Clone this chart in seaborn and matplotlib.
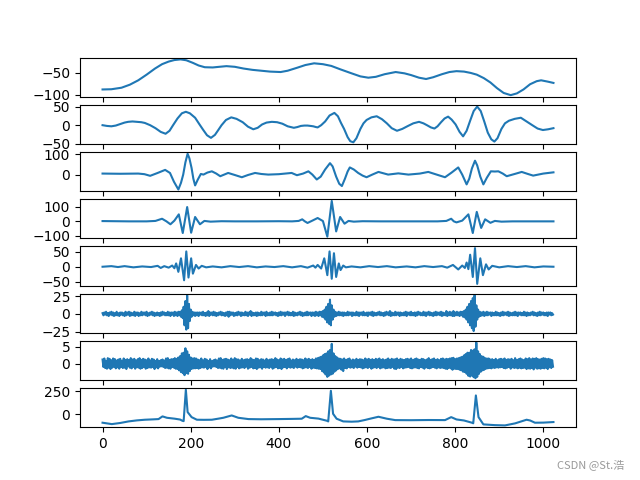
import matplotlib
matplotlib.use("Agg")
import matplotlib.pyplot as plt
import seaborn as sns
import numpy as np

# ---- Row 1: approximation (smooth trend) ----
a_x = [0, 20, 43, 62, 81, 100, 119, 135, 150, 163, 177, 190, 205, 218, 232, 250, 265,
       281, 300, 320, 340, 360, 380, 404, 420, 442, 460, 480, 500, 519, 540, 565, 585,
       603, 620, 640, 665, 685, 700, 718, 734, 750, 770, 787, 803, 820, 835, 849, 865,
       880, 895, 910, 926, 940, 955, 970, 985, 995, 1010, 1023]
a_y = [-88, -87.5, -84, -77, -67, -54, -40, -30, -24, -20.5, -19, -21, -27, -33, -37, -37.5, -36,
       -34.5, -36, -40, -43, -45, -47, -48, -45, -38, -32, -28, -30, -34, -42, -51, -58,
       -61, -59, -53, -48, -51, -55, -61, -64, -60, -53, -48, -46, -47, -50, -54, -62,
       -72, -85, -96, -101, -97, -88, -76, -69, -67, -70, -73]

# ---- Row 2 ----
d1_x = [0, 10, 20, 30, 40, 50, 58, 68, 78, 88, 96, 108, 120, 132, 143, 152, 160, 170,
        180, 189, 198, 210, 220, 228, 237, 246, 255, 262, 270, 280, 292, 304, 318, 330,
        342, 352, 362, 372, 384, 396, 408, 420, 434, 442, 450, 458, 465, 472, 478, 484,
        488, 496, 505, 515, 526, 534, 541, 548, 556, 562, 569, 576, 585, 592, 599, 610,
        622, 634, 645, 656, 668, 680, 693, 705, 718, 728, 736, 745, 753, 760, 768, 776,
        784, 792, 801, 810, 818, 826, 834, 842, 850, 858, 866, 874, 882, 889, 896, 905,
        913, 922, 935, 949, 962, 975, 987, 999, 1011, 1023]
d1_y = [0, -2, -3, -1, 3, 7, 9, 10, 9, 8, 6, 0, -8, -18, -23, -15, 0, 18,
        32, 36, 32, 20, 2, -12, -27, -34, -26, -14, 0, 14, 21, 17, 8, -4,
        -11, -7, 2, 7, 9, 8, 4, -3, -7, -5, -2, -1, -1, -2, -3, -5,
        -6, 0, 10, 26, 33, 24, 6, -10, -32, -43, -46, -35, -10, 5, 14, 21,
        24, 16, 5, -8, -15, -10, -2, 5, 9, 5, 0, -6, -9, -3, 8, 18,
        23, 15, 2, -18, -30, -15, 12, 38, 50, 38, 10, -20, -38, -44, -35, -10,
        5, 12, 17, 20, 10, 0, -9, -13, -11, -8]

# ---- Row 3 ----
d2_x = [0, 40, 81, 95, 108, 125, 142, 153, 162, 172, 178, 183, 188, 193, 197, 202, 206,
        210, 216, 223, 229, 238, 248, 258, 267, 276, 285, 300, 316, 330, 346, 360, 376,
        400, 429, 441, 455, 467, 476, 486, 495, 505, 516, 522, 530, 537, 543, 550, 556,
        561, 570, 580, 590, 599, 612, 626, 648, 671, 694, 720, 739, 758, 777, 792, 807,
        816, 826, 832, 838, 845, 850, 857, 864, 872, 881, 890, 898, 908, 917, 935, 951,
        965, 977, 1000, 1023]
d2_y = [5, 4, 5, 2, -6, 8, 23, 8, -35, -73, -40, 0, 60, 102, 80, 32, -20,
        -53, -25, 3, 0, 10, 16, 5, -8, 0, 8, -2, -13, -2, 8, 3, 0,
        2, 8, -3, 5, 16, 0, -24, -10, 25, 56, 40, -10, -45, -56, -20, 15,
        35, 25, 8, -5, -13, 0, 13, 0, 6, 0, 5, 13, 0, -13, 10, 35,
        0, -48, -20, 30, 68, 45, -10, -48, -15, 16, 15, 16, 5, -8, 3, 13,
        3, -5, 5, 11]

# ---- Row 4 ----
d3_x = [0, 60, 100, 120, 135, 145, 154, 163, 173, 182, 192, 201, 210, 221, 231, 245,
        270, 300, 350, 400, 430, 445, 453, 459, 465, 476, 488, 500, 510, 520, 530, 539,
        549, 558, 570, 590, 630, 700, 760, 780, 791, 797, 803, 816, 830, 840, 849, 859,
        868, 880, 890, 905, 930, 1023]
d3_y = [2, 0, 0, 3, 18, 0, -20, 5, 48, -80, 98, -78, 30, -20, 3, -2,
        1, 0, 0, 1, 0, 3, 14, 0, -11, 5, 23, 2, -105, 140, -69, 30,
        -16, 3, -2, 1, 0, 0, 0, 3, 18, 0, -7, 5, 48, -80, 65, -45,
        14, -10, 3, -2, 0, 0]

# ---- Row 5 ----
d4_x = [0, 20, 35, 50, 70, 90, 110, 125, 132, 140, 150, 158, 163, 167, 172, 178, 185,
        190, 195, 201, 205, 212, 218, 225, 235, 250, 270, 290, 310, 330, 350, 370, 390,
        410, 430, 450, 465, 478, 483, 488, 496, 503, 510, 515, 520, 525, 530, 536, 540,
        546, 552, 565, 585, 605, 625, 645, 665, 690, 710, 730, 750, 770, 782, 795, 807,
        816, 822, 826, 830, 834, 840, 845, 850, 857, 863, 870, 876, 884, 900, 920, 940,
        960, 980, 1000, 1023]
d4_y = [0, 2, -1, 2, -2, 1, -1, 3, -4, 2, -3, 4, -5, 11, -17, 28, -45,
        51, -36, 28, -23, 6, -6, 3, -2, 1, -2, 2, -1, 2, -2, 1, -1,
        2, -2, 2, -3, 4, -3, 6, -6, 28, -28, 51, -40, 45, -34, 11, -11,
        4, -2, 1, -2, 2, -1, 2, -2, 1, -2, 2, -1, 2, -3, 6, -9,
        4, -4, 14, -8, 40, -34, 62, -57, 28, -28, 8, -9, 3, -2, 2, -1,
        2, -2, 1, 0]

# ---- Row 6 (sampled every 2 points) ----
d5_step = 2
d5_y = [1, -2, 2, -1, 3, -2, 1, -3, 2, -1, 3, -2, 2, -3, 1, -2,
        3, -2, 1, -3, 2, -1, 2, -2, 1, -3, 3, -2, 2, -1, 3, -3,
        2, -2, 1, -2, 3, -3, 2, -1, 2, -3, 1, -2, 3, -2, 2, -1,
        2, -2, 3, -3, 1, -2, 2, -1, 3, -2, 2, -3, 1, -2, 2, -2,
        1, -3, 2, -2, 3, -1, 2, -2, 1, -2, 3, -2, 2, -3, 2, -1,
        2, -3, 3, -2, 2, -3, 3, -2, 3, -4, 5, -6, 10, -16, 18, -22,
        26, -20, 14, -10, 6, -4, 3, -2, 2, -3, 2, -2, 2, -3, 2, -1,
        2, -2, 3, -2, 1, -3, 2, -2, 4, -3, 2, -1, 2, -2, 3, -2,
        2, -3, 1, -2, 2, -1, 3, -2, 2, -2, 1, -3, 2, -2, 3, -4,
        3, -2, 2, -1, 2, -3, 1, -2, 2, -2, 3, -1, 2, -3, 2, -2,
        1, -2, 3, -2, 2, -3, 2, -1, 4, -3, 2, -2, 1, -2, 2, -3,
        2, -2, 1, -2, 3, -2, 2, -1, 2, -3, 3, -2, 1, -2, 2, -2,
        3, -2, 2, -1, 2, -2, 1, -3, 2, -2, 3, -2, 2, -1, 2, -3,
        2, -1, 3, -2, 2, -2, 1, -2, 3, -3, 2, -2, 1, -2, 2, -1,
        3, -2, 2, -3, 1, -2, 2, -2, 3, -2, 2, -1, 2, -3, 2, -2,
        2, -3, 3, -2, 2, -3, 3, -2, 3, -4, 4, -5, 6, -8, 10, -12,
        14, -14, 20, -16, 12, -8, 6, -4, 3, -3, 2, -2, 3, -2, 2, -2,
        2, -3, 2, -2, 1, -2, 3, -2, 2, -1, 2, -3, 2, -2, 1, -2,
        3, -2, 2, -3, 2, -1, 2, -2, 3, -2, 1, -2, 2, -3, 2, -1,
        2, -2, 3, -3, 2, -2, 1, -2, 2, -1, 3, -2, 2, -2, 1, -3,
        2, -2, 3, -1, 2, -2, 4, -3, 2, -2, 1, -2, 3, -2, 2, -1,
        2, -3, 2, -2, 1, -2, 2, -2, 3, -3, 2, -1, 2, -2, 3, -2,
        1, -2, 2, -3, 2, -2, 3, -1, 2, -2, 1, -2, 3, -2, 2, -3,
        2, -1, 3, -2, 2, -2, 1, -3, 2, -2, 3, -2, 2, -1, 2, -2,
        3, -3, 2, -2, 1, -2, 4, -3, 2, -2, 3, -2, 2, -3, 4, -3,
        2, -2, 3, -2, 2, -3, 3, -2, 3, -4, 4, -5, 6, -8, 10, -12,
        14, -16, 18, -20, 22, -24, 26, -18, 12, -8, 6, -4, 3, -3, 2, -2,
        3, -3, 2, -2, 3, -2, 2, -1, 2, -3, 2, -2, 1, -2, 3, -2,
        2, -2, 1, -3, 2, -2, 3, -2, 2, -1, 2, -2, 3, -3, 2, -2,
        1, -2, 2, -2, 3, -2, 2, -3, 2, -1, 2, -2, 1, -2, 3, -2,
        2, -3, 2, -2, 1, -2, 2, -1, 3, -2, 2, -2, 1, -3, 2, -2,
        3, -2, 2, -1, 2, -2, 1, -2, 2, -3, 2, -1, 2, -2, 1, -1]

# ---- Row 7 (sampled every 2 points) ----
d6_step = 2
d6_y = [1.2, -1.0, 1.5, -1.3, 0.8, -1.5, 1.6, -1.2, 1.4, -1.6, 1.0, -1.2, 1.5, -0.9, 1.3, -1.4,
        0.9, -1.1, 1.2, -1.5, 1.4, -1.0, 0.8, -1.3, 1.5, -1.2, 1.1, -1.6, 1.3, -0.8, 1.0, -1.2,
        1.6, -1.4, 1.2, -1.0, 1.4, -1.5, 0.9, -1.1, 1.3, -1.2, 1.6, -1.5, 1.1, -1.3, 1.4, -1.0,
        1.2, -1.5, 1.0, -1.3, 1.5, -1.1, 0.9, -1.2, 1.4, -1.0, 1.2, -1.6, 0.8, -1.1, 1.3, -1.4,
        0.7, -0.9, 1.0, -0.8, 1.2, -1.0, 0.9, -1.3, 1.5, -1.2, 1.6, -1.4, 1.1, -1.5, 1.3, -1.0,
        1.3, -1.2, 1.6, -1.5, 1.4, -1.6, 1.8, -2.0, 2.2, -2.5, 3.0, -2.8, 3.2, -3.4, 4.5, -2.8,
        3.6, -3.0, 2.6, -2.2, 1.8, -1.6, 1.5, -1.4, 1.6, -1.4, 1.5, -1.3, 1.2, -1.5, 1.0, -1.3,
        1.5, -1.1, 0.9, -1.2, 1.4, -1.0, 1.2, -1.6, 0.8, -1.1, 1.3, -1.4, 0.7, -0.9, 1.0, -0.8,
        1.2, -1.0, 0.9, -1.3, 1.5, -1.2, 1.6, -1.4, 1.1, -1.5, 1.3, -1.0, 1.4, -1.6, 1.2, -1.1,
        1.0, -1.3, 1.5, -1.2, 1.1, -1.4, 1.6, -1.5, 1.3, -1.0, 1.2, -1.4, 0.9, -1.2, 1.4, -1.1,
        1.0, -1.3, 1.2, -0.9, 1.3, -1.5, 1.1, -1.2, 1.6, -1.0, 1.2, -1.4, 1.0, -1.3, 1.5, -1.6,
        1.4, -1.2, 1.0, -1.1, 1.3, -1.5, 1.2, -1.0, 0.9, -1.2, 1.4, -1.1, 1.0, -1.3, 1.2, -0.9,
        1.3, -1.5, 1.1, -1.2, 1.6, -1.0, 1.2, -1.4, 1.0, -1.3, 1.5, -1.6, 1.2, -1.1, 1.4, -1.0,
        1.1, -1.4, 1.3, -1.0, 1.5, -1.2, 0.9, -1.1, 1.2, -1.3, 1.0, -0.9, 1.4, -1.2, 1.1, -1.0,
        1.3, -1.1, 1.2, -1.4, 1.0, -1.2, 1.5, -1.1, 1.2, -1.3, 1.4, -1.0, 1.1, -1.5, 1.3, -1.2,
        1.0, -1.3, 1.5, -1.4, 1.6, -1.5, 1.8, -1.6, 2.0, -2.2, 2.4, -2.6, 2.8, -3.2, 3.0, -3.9,
        3.6, -3.5, 4.0, -3.2, 5.8, -3.0, 3.0, -2.4, 2.2, -2.0, 1.8, -1.6, 1.5, -1.4, 1.4, -1.8,
        1.2, -2.2, 1.5, -1.3, 1.1, -1.4, 1.3, -1.0, 1.5, -1.2, 0.9, -1.1, 1.2, -1.3, 1.0, -0.9,
        1.4, -1.2, 1.1, -1.0, 1.3, -1.1, 1.2, -1.4, 1.0, -1.2, 1.5, -1.1, 1.2, -1.3, 1.4, -1.0,
        1.1, -1.5, 1.3, -1.2, 1.0, -1.1, 1.4, -1.3, 1.2, -1.0, 1.5, -1.4, 1.1, -1.2, 1.3, -1.1,
        1.0, -1.4, 1.2, -1.3, 1.5, -1.2, 1.1, -1.3, 1.4, -1.0, 1.2, -1.5, 1.3, -1.6, 1.5, -1.2,
        1.1, -1.3, 1.4, -1.0, 1.2, -1.4, 1.0, -1.2, 1.3, -1.1, 1.4, -1.0, 1.2, -1.3, 1.5, -1.4,
        1.0, -1.2, 1.3, -1.1, 1.5, -1.3, 1.2, -1.4, 1.1, -1.0, 1.4, -1.2, 1.3, -1.5, 1.0, -1.1,
        1.2, -1.3, 1.6, -1.4, 1.1, -1.2, 1.3, -1.0, 1.5, -1.2, 1.1, -1.4, 1.3, -1.1, 1.0, -1.3,
        1.4, -1.2, 1.5, -1.3, 1.2, -1.5, 1.4, -1.6, 1.3, -1.2, 1.5, -1.4, 1.6, -1.8, 1.7, -1.5,
        1.3, -1.6, 1.5, -1.6, 1.6, -1.8, 1.8, -2.0, 2.0, -2.4, 2.4, -2.5, 2.8, -3.0, 3.2, -3.6,
        3.2, -3.8, 4.0, -3.5, 3.8, -4.0, 4.2, -4.3, 6.2, -3.9, 3.6, -3.0, 2.8, -2.4, 2.2, -2.0,
        2.0, -1.8, 1.6, -1.5, 1.5, -1.4, 1.5, -1.3, 1.2, -1.4, 1.3, -1.2, 1.0, -1.3, 1.4, -1.1,
        1.0, -1.2, 1.3, -1.1, 1.4, -1.0, 1.2, -1.3, 1.5, -1.4, 1.1, -1.2, 1.3, -1.0, 1.2, -1.5,
        1.4, -1.1, 1.0, -1.3, 1.6, -1.2, 1.1, -1.4, 1.3, -1.2, 1.5, -1.4, 1.2, -1.3, 1.0, -1.2,
        1.5, -1.6, 1.3, -1.4, 1.6, -1.5, 1.2, -1.3, 1.5, -1.7, 1.4, -1.2, 1.6, -1.5, 1.3, -1.4,
        1.2, -1.5, 1.4, -1.3, 1.6, -1.4, 1.5, -1.2, 1.3, -1.6, 1.4, -1.1, 1.2, -1.3, 1.0, -0.9]

# ---- Row 8: original signal ----
sig_x = [0, 21, 40, 59, 78, 96, 115, 127, 136, 146, 164, 176, 181, 184, 189, 193, 202,
         214, 230, 248, 262, 274, 293, 308, 331, 360, 399, 430, 452, 461, 471, 490, 509,
         512, 518, 523, 531, 546, 565, 580, 595, 607, 626, 645, 664, 700, 740, 777, 791,
         803, 820, 838, 841, 847, 853, 864, 890, 913, 936, 950, 962, 970, 981, 1000, 1023]
sig_y = [-89, -104, -92, -75, -64, -57, -53, -50, -21, -36, -46, -55, -68, -72, 266, 25, -29,
         -57, -58, -57, -46, -36, -11, -36, -50, -52, -50, -48, -46, -18, -36, -45, -68,
         -75, 254, 7, -46, -75, -78, -75, -60, -46, -25, -46, -61, -62, -60, -61, -29,
         -54, -65, -89, -95, 204, -29, -107, -115, -118, -96, -75, -57, -65, -89, -88, -82]

watermark = "CSDN @St.浩"

series = [
    (a_x, a_y),
    (d1_x, d1_y),
    (d2_x, d2_y),
    (d3_x, d3_y),
    (d4_x, d4_y),
    (list(np.arange(len(d5_y)) * d5_step), d5_y),
    (list(np.arange(len(d6_y)) * d6_step), d6_y),
    (sig_x, sig_y),
]

fig, axes = plt.subplots(len(series), 1, sharex=True, figsize=(6.4, 4.8), dpi=100)
for ax, (xs, ys) in zip(axes, series):
    sns.lineplot(x=xs, y=ys, ax=ax, color="#1f77b4", linewidth=1.5,
                 estimator=None, sort=False)

fig.text(0.975, 0.031, watermark, ha="right", va="center", fontsize=8,
         color="#999999", family=["Noto Sans CJK SC", "DejaVu Sans"])

fig.savefig("out.png", dpi=100)
